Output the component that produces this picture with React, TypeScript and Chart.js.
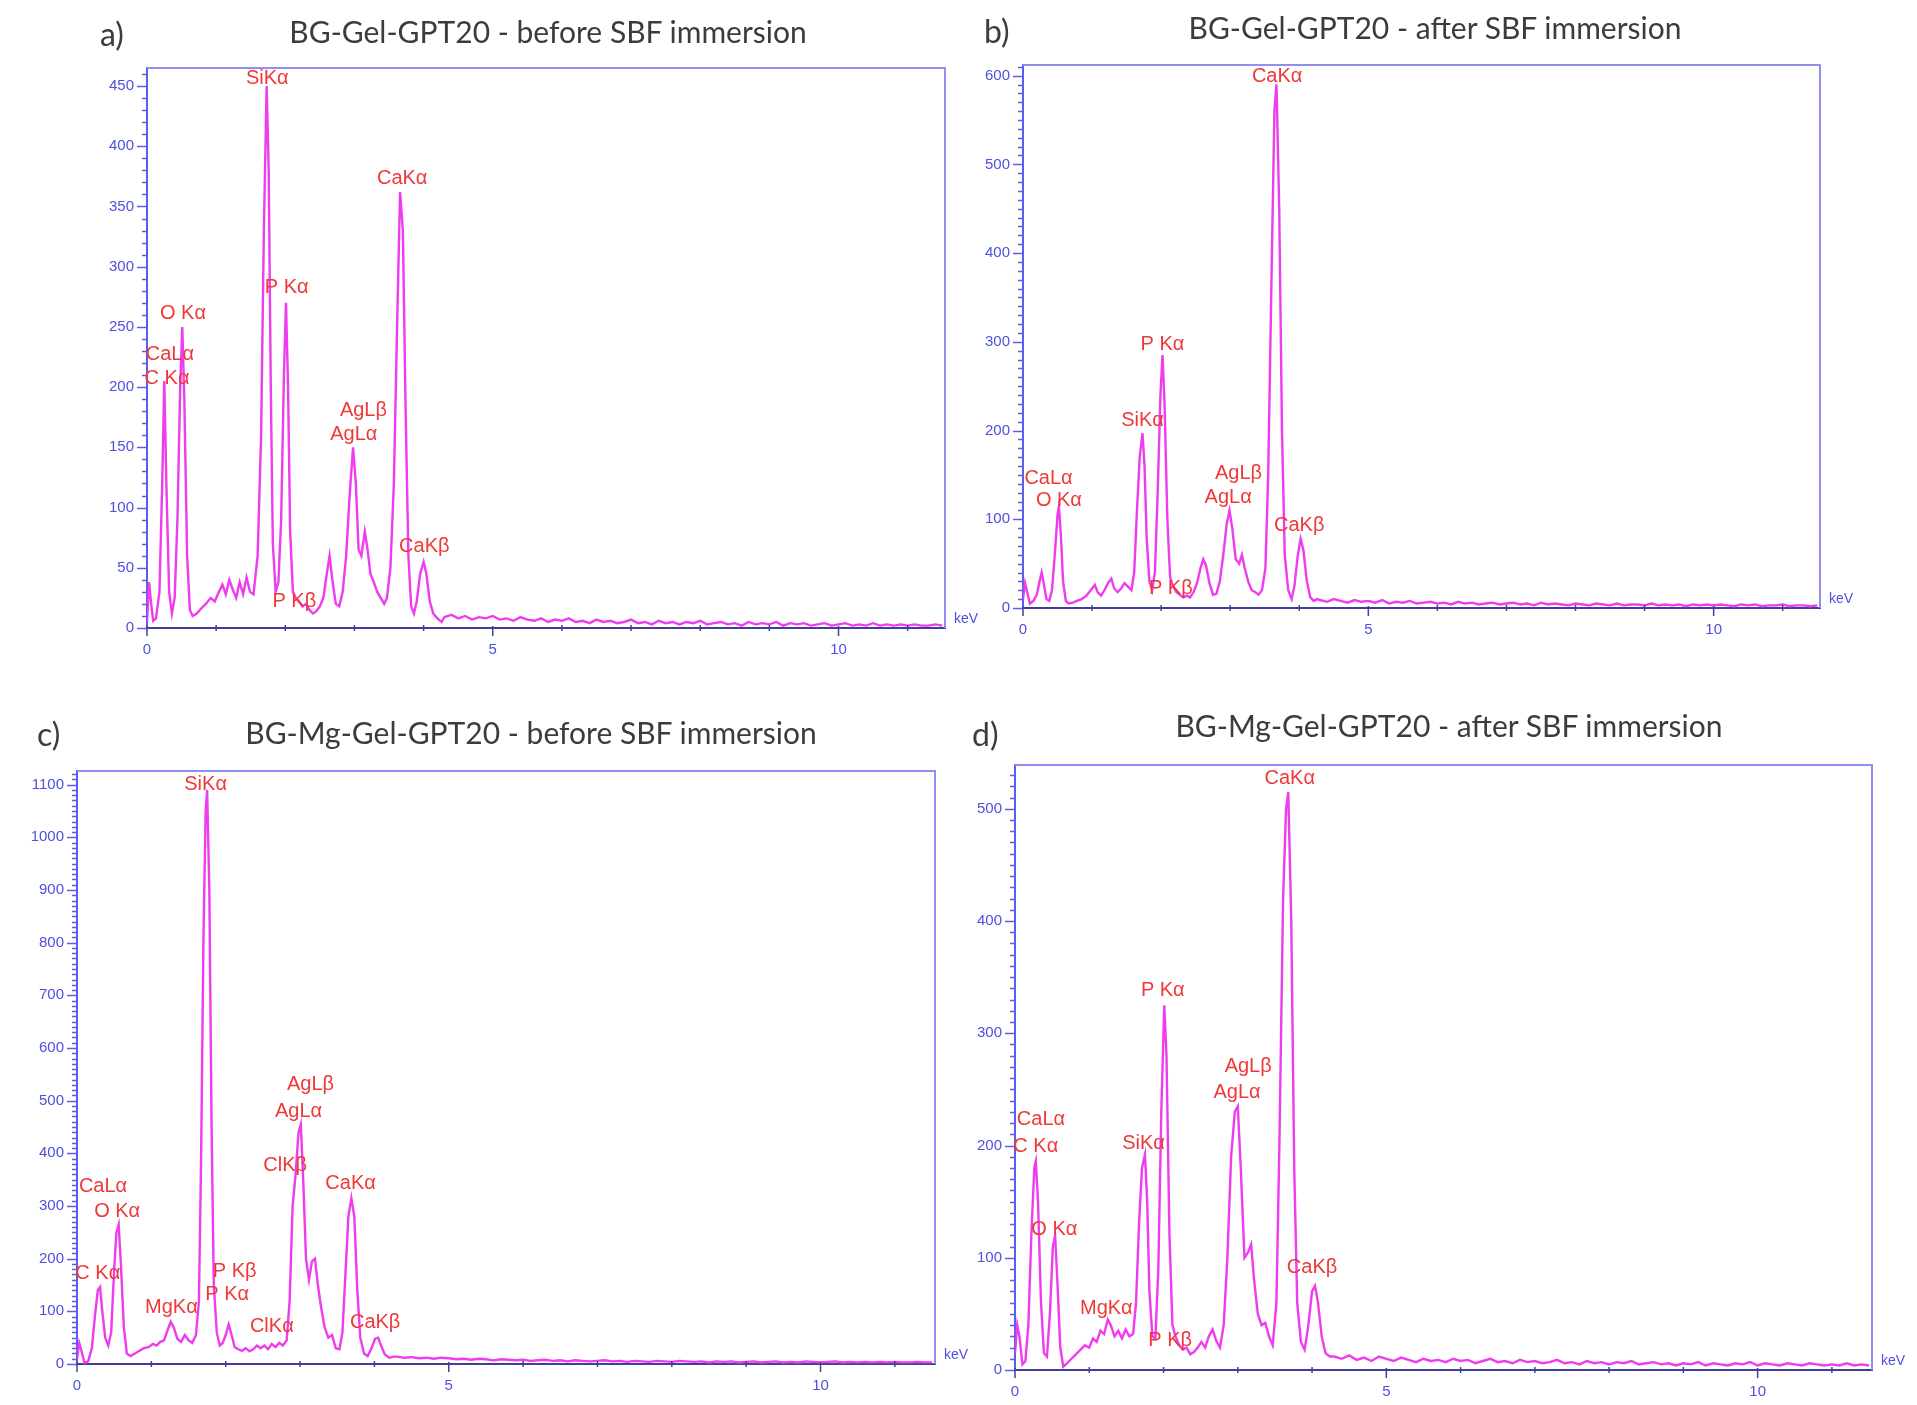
import React, { useEffect, useRef } from 'react';
import { Chart, registerables } from 'chart.js';

Chart.register(...registerables);

type Pair = [number, number];

// ---------- shared axis data ----------
const X_MAX = 11.54;
const X_TICKS = [0, 5, 10];
const X_MINOR = [1, 2, 3, 4, 6, 7, 8, 9, 11];
const TAIL_KEV = [
  4.3, 4.4, 4.5, 4.6, 4.7, 4.8, 4.9,
  5.0, 5.1, 5.2, 5.3, 5.4, 5.5, 5.6, 5.7, 5.8, 5.9,
  6.0, 6.1, 6.2, 6.3, 6.4, 6.5, 6.6, 6.7, 6.8, 6.9,
  7.0, 7.1, 7.2, 7.3, 7.4, 7.5, 7.6, 7.7, 7.8, 7.9,
  8.0, 8.1, 8.2, 8.3, 8.4, 8.5, 8.6, 8.7, 8.8, 8.9,
  9.0, 9.1, 9.2, 9.3, 9.4, 9.5, 9.6, 9.7, 9.8, 9.9,
  10.0, 10.1, 10.2, 10.3, 10.4, 10.5, 10.6, 10.7, 10.8, 10.9,
  11.0, 11.1, 11.2, 11.3, 11.4, 11.5,
];

// ---------- panel a: BG-Gel-GPT20 before SBF ----------
const peaksA: Pair[] = [
  [0.00, 5], [0.03, 38], [0.06, 20], [0.09, 6], [0.13, 8], [0.18, 30], [0.22, 120], [0.25, 205], [0.28, 120],
  [0.32, 30], [0.36, 12], [0.40, 25], [0.44, 90], [0.48, 200], [0.51, 250], [0.54, 190], [0.58, 60], [0.62, 15],
  [0.66, 10], [0.72, 12], [0.78, 16], [0.85, 20], [0.92, 25], [0.98, 22], [1.04, 30], [1.09, 36], [1.14, 28],
  [1.19, 40], [1.24, 32], [1.29, 25], [1.34, 38], [1.39, 28], [1.44, 42], [1.49, 30], [1.54, 28], [1.60, 60],
  [1.65, 160], [1.69, 330], [1.73, 450], [1.76, 380], [1.79, 200], [1.82, 70], [1.86, 30], [1.90, 38], [1.94, 90],
  [1.98, 210], [2.01, 270], [2.04, 200], [2.07, 80], [2.11, 30], [2.15, 25], [2.20, 22], [2.25, 18], [2.30, 20],
  [2.35, 15], [2.40, 12], [2.45, 14], [2.50, 18], [2.55, 25], [2.60, 45], [2.64, 60], [2.68, 40], [2.73, 20],
  [2.78, 18], [2.83, 30], [2.88, 60], [2.93, 110], [2.98, 150], [3.02, 120], [3.06, 65], [3.10, 60], [3.15, 80],
  [3.19, 65], [3.23, 45], [3.28, 38], [3.33, 30], [3.38, 25], [3.43, 20], [3.47, 25], [3.52, 50], [3.57, 120],
  [3.62, 260], [3.66, 362], [3.70, 330], [3.74, 180], [3.78, 60], [3.82, 18], [3.86, 12], [3.90, 22], [3.95, 45],
  [4.00, 55], [4.04, 45], [4.09, 22], [4.14, 12], [4.20, 8], [4.26, 5],
];
const tailA = [
  9, 11, 8, 10, 7, 9, 8,
  10, 7, 8, 6, 9, 7, 6, 8, 5, 7,
  6, 8, 5, 6, 4, 7, 5, 6, 4, 5,
  7, 4, 5, 3, 6, 4, 5, 3, 5, 4,
  6, 3, 4, 5, 3, 4, 2, 5, 3, 4,
  3, 5, 2, 4, 3, 4, 2, 3, 4, 2,
  3, 4, 2, 3, 2, 4, 2, 3, 2, 3,
  2, 3, 2, 2, 3, 2,
];
const yTicksA = [0, 50, 100, 150, 200, 250, 300, 350, 400, 450];
const yMaxA = 465;
const labelTextA = ['SiKα', 'P Kα', 'CaKα', 'O Kα', 'CaLα', 'C Kα', 'AgLβ', 'AgLα', 'CaKβ', 'P Kβ'];
const labelKeVA = [1.74, 2.02, 3.69, 0.52, 0.33, 0.29, 3.13, 2.99, 4.01, 2.13];
const labelCountA = [456, 283, 373, 261, 227, 207, 181, 161, 68, 22];

// ---------- panel b: BG-Gel-GPT20 after SBF ----------
const peaksB: Pair[] = [
  [0.00, 10], [0.03, 28], [0.06, 18], [0.10, 5], [0.15, 8], [0.20, 15], [0.24, 30], [0.27, 40], [0.30, 28],
  [0.34, 10], [0.38, 8], [0.42, 20], [0.46, 60], [0.50, 105], [0.52, 115], [0.55, 80], [0.58, 30], [0.62, 8],
  [0.66, 5], [0.72, 6], [0.78, 8], [0.85, 10], [0.92, 14], [0.98, 20], [1.04, 26], [1.08, 18], [1.13, 14],
  [1.18, 20], [1.23, 28], [1.28, 33], [1.32, 22], [1.37, 18], [1.42, 22], [1.47, 28], [1.52, 24], [1.57, 20],
  [1.61, 40], [1.65, 110], [1.69, 170], [1.73, 197], [1.76, 160], [1.79, 80], [1.83, 30], [1.87, 20], [1.91, 40],
  [1.95, 130], [1.99, 240], [2.02, 285], [2.05, 230], [2.09, 100], [2.13, 35], [2.17, 25], [2.22, 18], [2.27, 15],
  [2.32, 12], [2.37, 14], [2.42, 12], [2.47, 18], [2.52, 28], [2.57, 45], [2.61, 55], [2.65, 48], [2.70, 28],
  [2.75, 15], [2.80, 16], [2.85, 30], [2.90, 60], [2.95, 95], [2.99, 110], [3.03, 90], [3.08, 55], [3.13, 50],
  [3.17, 60], [3.21, 45], [3.26, 30], [3.31, 20], [3.36, 18], [3.41, 15], [3.46, 20], [3.51, 45], [3.55, 150],
  [3.60, 380], [3.64, 560], [3.67, 590], [3.71, 450], [3.75, 200], [3.79, 60], [3.84, 20], [3.89, 10], [3.93, 25],
  [3.98, 60], [4.02, 78], [4.06, 65], [4.11, 30], [4.16, 12], [4.21, 8], [4.26, 10],
];
const tailB = [
  9, 7, 10, 8, 6, 9, 7,
  8, 6, 9, 5, 7, 6, 8, 5, 6, 7,
  5, 6, 4, 7, 5, 6, 4, 5, 6, 4,
  5, 6, 4, 5, 3, 6, 4, 5, 4, 3,
  5, 4, 3, 5, 4, 3, 5, 3, 4, 4,
  3, 5, 3, 4, 3, 4, 2, 4, 3, 4,
  3, 4, 3, 2, 4, 3, 4, 2, 3, 3,
  4, 2, 3, 3, 2, 3,
];
const yTicksB = [0, 100, 200, 300, 400, 500, 600];
const yMaxB = 612;
const labelTextB = ['CaKα', 'P Kα', 'SiKα', 'CaLα', 'O Kα', 'AgLβ', 'AgLα', 'CaKβ', 'P Kβ'];
const labelKeVB = [3.68, 2.02, 1.73, 0.37, 0.52, 3.12, 2.97, 4.0, 2.14];
const labelCountB = [599, 297, 211, 146, 121, 152, 125, 93, 22];

// ---------- panel c: BG-Mg-Gel-GPT20 before SBF ----------
const peaksC: Pair[] = [
  [0.00, 10], [0.03, 40], [0.06, 25], [0.10, 2], [0.15, 5], [0.20, 30], [0.24, 90], [0.28, 140], [0.31, 146],
  [0.34, 100], [0.38, 50], [0.42, 35], [0.46, 60], [0.50, 180], [0.53, 250], [0.56, 265], [0.59, 190], [0.63, 70],
  [0.67, 20], [0.72, 15], [0.78, 20], [0.84, 25], [0.90, 30], [0.96, 32], [1.02, 38], [1.07, 35], [1.12, 42],
  [1.17, 45], [1.22, 65], [1.26, 80], [1.30, 70], [1.35, 48], [1.40, 42], [1.45, 55], [1.50, 45], [1.55, 40],
  [1.60, 55], [1.64, 120], [1.67, 400], [1.70, 800], [1.73, 1050], [1.75, 1090], [1.78, 900], [1.81, 450],
  [1.84, 150], [1.88, 60], [1.92, 35], [1.96, 40], [2.00, 55], [2.04, 75], [2.08, 55], [2.12, 32], [2.17, 28],
  [2.22, 25], [2.27, 30], [2.32, 24], [2.37, 28], [2.42, 35], [2.47, 30], [2.52, 35], [2.57, 28], [2.62, 38],
  [2.67, 32], [2.72, 40], [2.77, 35], [2.82, 45], [2.86, 120], [2.90, 300], [2.94, 360], [2.98, 440], [3.01, 455],
  [3.04, 360], [3.08, 200], [3.12, 160], [3.16, 195], [3.20, 200], [3.24, 150], [3.28, 110], [3.33, 70],
  [3.38, 50], [3.43, 55], [3.48, 30], [3.53, 28], [3.57, 60], [3.61, 170], [3.65, 280], [3.69, 315], [3.73, 280],
  [3.77, 140], [3.81, 50], [3.86, 20], [3.91, 15], [3.96, 30], [4.01, 48], [4.05, 50], [4.09, 35], [4.14, 18],
  [4.20, 12], [4.26, 14],
];
const tailC = [
  14, 12, 13, 11, 12, 10, 12,
  11, 9, 10, 8, 10, 9, 7, 9, 8, 7,
  8, 6, 7, 8, 6, 7, 5, 7, 6, 5,
  6, 7, 5, 6, 4, 6, 5, 4, 6, 5,
  4, 6, 5, 4, 5, 3, 5, 4, 5, 3,
  4, 5, 3, 4, 5, 3, 4, 3, 5, 4,
  3, 4, 5, 3, 4, 3, 4, 3, 4, 3,
  4, 3, 3, 4, 3, 3,
];
const yTicksC = [0, 100, 200, 300, 400, 500, 600, 700, 800, 900, 1000, 1100];
const yMaxC = 1126;
const labelTextC = ['SiKα', 'AgLβ', 'AgLα', 'ClKβ', 'CaKα', 'CaLα', 'O Kα', 'C Kα', 'P Kβ', 'P Kα', 'MgKα', 'ClKα', 'CaKβ'];
const labelKeVC = [1.73, 3.14, 2.98, 2.80, 3.68, 0.35, 0.54, 0.28, 2.12, 2.02, 1.27, 2.62, 4.01];
const labelCountC = [1100, 530, 479, 377, 342, 338, 290, 171, 176, 132, 107, 71, 78];

// ---------- panel d: BG-Mg-Gel-GPT20 after SBF ----------
const peaksD: Pair[] = [
  [0.00, 15], [0.03, 40], [0.06, 30], [0.10, 5], [0.14, 8], [0.18, 40], [0.22, 120], [0.26, 180], [0.28, 186],
  [0.31, 150], [0.35, 60], [0.39, 15], [0.43, 12], [0.47, 50], [0.51, 110], [0.54, 120], [0.57, 80], [0.61, 20],
  [0.65, 3], [0.70, 6], [0.76, 10], [0.82, 14], [0.88, 18], [0.94, 22], [1.00, 20], [1.05, 28], [1.10, 25],
  [1.15, 35], [1.20, 32], [1.25, 45], [1.29, 40], [1.34, 30], [1.39, 35], [1.44, 28], [1.49, 36], [1.54, 30],
  [1.59, 32], [1.63, 60], [1.67, 130], [1.71, 180], [1.75, 192], [1.78, 150], [1.81, 70], [1.85, 30], [1.89, 28],
  [1.93, 90], [1.97, 230], [2.01, 325], [2.04, 280], [2.08, 120], [2.12, 40], [2.16, 30], [2.21, 22], [2.26, 18],
  [2.31, 20], [2.36, 14], [2.41, 16], [2.46, 20], [2.51, 25], [2.56, 20], [2.61, 30], [2.66, 36], [2.71, 26],
  [2.76, 20], [2.81, 40], [2.86, 100], [2.91, 190], [2.96, 230], [3.00, 235], [3.04, 180], [3.09, 100],
  [3.14, 105], [3.18, 112], [3.22, 80], [3.27, 50], [3.32, 40], [3.37, 42], [3.42, 30], [3.47, 22], [3.52, 60],
  [3.56, 200], [3.61, 420], [3.65, 500], [3.68, 515], [3.72, 400], [3.76, 180], [3.80, 60], [3.85, 25],
  [3.90, 18], [3.95, 40], [4.00, 70], [4.04, 75], [4.08, 60], [4.13, 30], [4.18, 15], [4.24, 12],
];
const tailD = [
  12, 10, 13, 9, 11, 8, 12,
  10, 8, 11, 9, 7, 10, 8, 9, 7, 10,
  8, 9, 6, 8, 10, 7, 8, 6, 9, 7,
  8, 6, 7, 9, 6, 7, 5, 8, 6, 7,
  5, 7, 6, 8, 5, 6, 7, 5, 6, 4,
  6, 5, 7, 4, 6, 5, 4, 6, 5, 7,
  4, 6, 5, 4, 6, 5, 4, 6, 5, 4,
  5, 4, 6, 4, 5, 4,
];
const yTicksD = [0, 100, 200, 300, 400, 500];
const yMaxD = 539;
const labelTextD = ['CaKα', 'P Kα', 'AgLβ', 'AgLα', 'CaLα', 'C Kα', 'SiKα', 'O Kα', 'CaKβ', 'MgKα', 'P Kβ'];
const labelKeVD = [3.70, 1.99, 3.14, 2.99, 0.35, 0.28, 1.73, 0.53, 4.00, 1.23, 2.09];
const labelCountD = [527, 338, 270, 247, 223, 199, 202, 125, 91, 55, 26];

// ---------- styling ----------
const SPEC = '#ee3cee';
const RED = '#f03838';
const TICK = '#4f4fe0';
const AXIS_Y = '#5c5cee';
const AXIS_X = '#40409a';
const FRAME = '#9090f4';
const AX_W = 70;
const AX_H = 32;
const PAD_T = 12;
const PAD_R = 42;

interface PanelCfg {
  letter: string;
  title: string;
  rect: { left: number; top: number; right: number; bottom: number };
  titleX: number;
  titleY: number;
  letterX: number;
  letterY: number;
  peaks: Pair[];
  tail: number[];
  yTicks: number[];
  yMax: number;
  labelText: string[];
  labelKeV: number[];
  labelCount: number[];
}

const PANELS: PanelCfg[] = [
  {
    letter: 'a)', title: 'BG-Gel-GPT20 - before SBF immersion',
    rect: { left: 147, top: 58, right: 945, bottom: 628 },
    titleX: 548, titleY: 31, letterX: 100, letterY: 34,
    peaks: peaksA, tail: tailA, yTicks: yTicksA, yMax: yMaxA,
    labelText: labelTextA, labelKeV: labelKeVA, labelCount: labelCountA,
  },
  {
    letter: 'b)', title: 'BG-Gel-GPT20 - after SBF immersion',
    rect: { left: 1023, top: 55, right: 1820, bottom: 608 },
    titleX: 1435, titleY: 27, letterX: 984, letterY: 31,
    peaks: peaksB, tail: tailB, yTicks: yTicksB, yMax: yMaxB,
    labelText: labelTextB, labelKeV: labelKeVB, labelCount: labelCountB,
  },
  {
    letter: 'c)', title: 'BG-Mg-Gel-GPT20 - before SBF immersion',
    rect: { left: 77, top: 761, right: 935, bottom: 1364 },
    titleX: 531, titleY: 732, letterX: 37, letterY: 734,
    peaks: peaksC, tail: tailC, yTicks: yTicksC, yMax: yMaxC,
    labelText: labelTextC, labelKeV: labelKeVC, labelCount: labelCountC,
  },
  {
    letter: 'd)', title: 'BG-Mg-Gel-GPT20 - after SBF immersion',
    rect: { left: 1015, top: 755, right: 1872, bottom: 1370 },
    titleX: 1449, titleY: 725, letterX: 972, letterY: 734,
    peaks: peaksD, tail: tailD, yTicks: yTicksD, yMax: yMaxD,
    labelText: labelTextD, labelKeV: labelKeVD, labelCount: labelCountD,
  },
];

const decorPlugin = {
  id: 'decor',
  afterDraw(chart: any, _args: any, opts: any) {
    const { ctx, chartArea: ca, scales } = chart;
    const xs = scales.x;
    const ys = scales.y;
    ctx.save();
    // frame top/right
    ctx.strokeStyle = FRAME;
    ctx.lineWidth = 2;
    ctx.beginPath();
    ctx.moveTo(ca.left, ca.top);
    ctx.lineTo(ca.right, ca.top);
    ctx.lineTo(ca.right, ca.bottom);
    ctx.stroke();
    // y ticks
    ctx.strokeStyle = AXIS_Y;
    ctx.lineWidth = 1.5;
    for (let v = 0; v <= ys.max; v += opts.minor) {
      const py = Math.round(ys.getPixelForValue(v)) + 0.5;
      const major = v % opts.major === 0;
      ctx.beginPath();
      ctx.moveTo(ca.left + 1, py);
      ctx.lineTo(ca.left - (major ? 10 : 5), py);
      ctx.stroke();
    }
    // x ticks
    ctx.strokeStyle = AXIS_X;
    X_TICKS.forEach((k) => {
      const px = xs.getPixelForValue(k);
      ctx.beginPath();
      ctx.moveTo(px, ca.bottom - 2);
      ctx.lineTo(px, ca.bottom + 8);
      ctx.stroke();
    });
    X_MINOR.forEach((k) => {
      const px = xs.getPixelForValue(k);
      ctx.beginPath();
      ctx.moveTo(px, ca.bottom - 3);
      ctx.lineTo(px, ca.bottom + 3);
      ctx.stroke();
    });
    // keV unit
    ctx.fillStyle = TICK;
    ctx.font = '14px "Liberation Sans", Arial, sans-serif';
    ctx.textAlign = 'left';
    ctx.textBaseline = 'middle';
    ctx.fillText('keV', ca.right + 9, ca.bottom - 9);
    // peak labels
    ctx.fillStyle = RED;
    ctx.font = '20px "Liberation Sans", Arial, sans-serif';
    ctx.textAlign = 'center';
    ctx.textBaseline = 'middle';
    const texts: string[] = opts.labelText;
    texts.forEach((t, i) => {
      ctx.fillText(t, xs.getPixelForValue(opts.labelKeV[i]), ys.getPixelForValue(opts.labelCount[i]));
    });
    ctx.restore();
  },
};

function Spectrum({ cfg }: { cfg: PanelCfg }) {
  const ref = useRef<HTMLCanvasElement>(null);
  useEffect(() => {
    if (!ref.current) return;
    const pts = [
      ...cfg.peaks.map(([x, y]) => ({ x, y })),
      ...TAIL_KEV.map((k, i) => ({ x: k, y: cfg.tail[i] })),
    ];
    const major = cfg.yTicks[1] - cfg.yTicks[0];
    const chart = new Chart(ref.current, {
      type: 'line',
      data: {
        datasets: [
          {
            data: pts,
            borderColor: SPEC,
            borderWidth: 2.4,
            pointRadius: 0,
            tension: 0,
            fill: false,
          },
        ],
      },
      options: {
        animation: false,
        responsive: true,
        maintainAspectRatio: false,
        layout: { padding: { left: 0, top: PAD_T, right: PAD_R, bottom: 0 } },
        plugins: {
          legend: { display: false },
          tooltip: { enabled: false },
          decor: {
            minor: 10,
            major,
            labelText: cfg.labelText,
            labelKeV: cfg.labelKeV,
            labelCount: cfg.labelCount,
          },
        } as any,
        scales: {
          x: {
            type: 'linear',
            min: 0,
            max: X_MAX,
            border: { display: true, color: AXIS_X, width: 2 },
            grid: { display: false, drawTicks: false },
            ticks: {
              color: TICK,
              font: { family: '"Liberation Sans", Arial, sans-serif', size: 15 },
              padding: 13,
              autoSkip: false,
              maxRotation: 0,
              callback: (v: any) => String(v),
            },
            afterBuildTicks: (s: any) => {
              s.ticks = X_TICKS.map((v) => ({ value: v }));
            },
            afterFit: (s: any) => {
              s.height = AX_H;
            },
          },
          y: {
            type: 'linear',
            min: 0,
            max: cfg.yMax,
            border: { display: true, color: AXIS_Y, width: 2 },
            grid: { display: false, drawTicks: false },
            ticks: {
              color: TICK,
              font: { family: '"Liberation Sans", Arial, sans-serif', size: 15 },
              padding: 13,
              autoSkip: false,
              callback: (v: any) => String(v),
            },
            afterBuildTicks: (s: any) => {
              s.ticks = cfg.yTicks.map((v) => ({ value: v }));
            },
            afterFit: (s: any) => {
              s.width = AX_W;
            },
          },
        },
      } as any,
      plugins: [decorPlugin],
    });
    return () => chart.destroy();
  }, [cfg]);

  const r = cfg.rect;
  return (
    <>
      <div
        style={{
          position: 'absolute',
          left: r.left - AX_W,
          top: r.top - PAD_T,
          width: r.right - r.left + AX_W + PAD_R,
          height: r.bottom - r.top + PAD_T + AX_H,
        }}
      >
        <canvas ref={ref} />
      </div>
      <div
        style={{
          position: 'absolute',
          left: cfg.titleX - 450,
          width: 900,
          top: cfg.titleY - 19,
          height: 38,
          lineHeight: '38px',
          textAlign: 'center',
          fontFamily: 'Lato, "Open Sans", sans-serif',
          fontSize: 30,
          color: '#3c3c3c',
          whiteSpace: 'nowrap',
        }}
      >
        {cfg.title}
      </div>
      <div
        style={{
          position: 'absolute',
          left: cfg.letterX,
          top: cfg.letterY - 20,
          height: 40,
          lineHeight: '40px',
          fontFamily: 'Lato, "Open Sans", sans-serif',
          fontSize: 32,
          color: '#3c3c3c',
        }}
      >
        {cfg.letter}
      </div>
    </>
  );
}

export default function App() {
  return (
    <div
      style={{
        position: 'absolute',
        left: 0,
        top: 0,
        width: 1917,
        height: 1405,
        background: '#ffffff',
        overflow: 'hidden',
      }}
    >
      {PANELS.map((p) => (
        <Spectrum key={p.letter} cfg={p} />
      ))}
    </div>
  );
}
